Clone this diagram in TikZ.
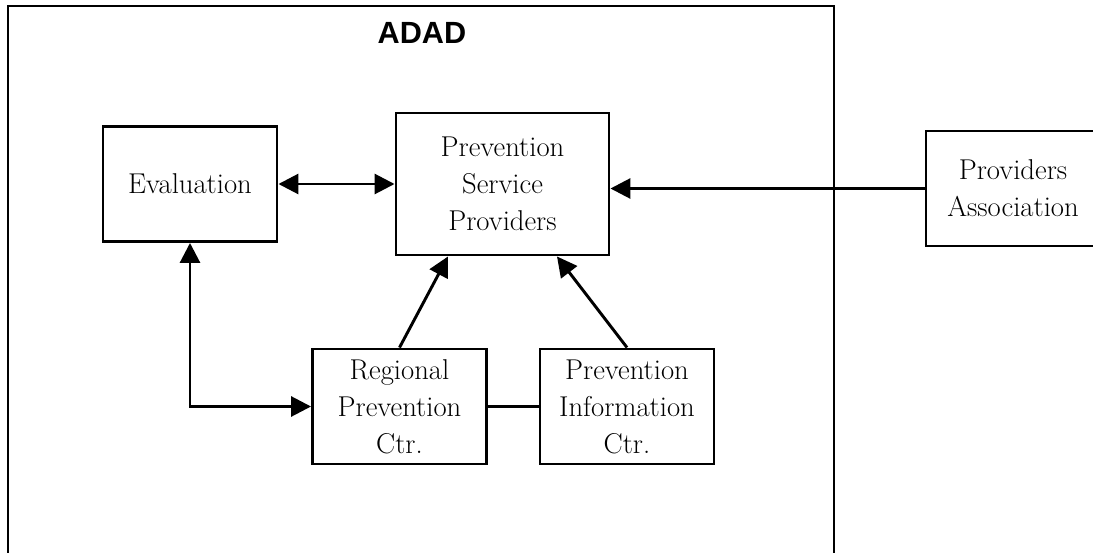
\documentclass[tikz,border=0pt]{standalone}
\usepackage{fontspec}
\newfontfamily\titlefont{Liberation Sans}
\usetikzlibrary{positioning,arrows.meta,calc}

\begin{document}
\begin{tikzpicture}[x=0.75pt, y=-0.75pt, line width=2.2pt,
    box/.style={draw, align=center, inner sep=0pt, minimum width=174*0.75pt, minimum height=115*0.75pt,
      font=\fontsize{21.5}{27.75}\selectfont},
    tip/.style={-{Triangle[length=15pt,width=15pt]}},
    tips/.style={{Triangle[length=15pt,width=15pt]}-{Triangle[length=15pt,width=15pt]}}]
    \useasboundingbox (0,0) rectangle (1093,553);
    \draw (8,570) -- (8,6) -- (834,6) -- (834,570);
    \node (adad) at (422,33) {\titlefont\bfseries\fontsize{23}{26}\selectfont ADAD};

    \node[box] (eval) at (190,184) {Evaluation};
    \node[box, minimum width=213*0.75pt, minimum height=142*0.75pt] (psp) at (502.5,184) {Prevention\\Service\\Providers};
    \node[box] (pa) at (1013,188.5) {Providers\\Association};
    \node[box] (rpc) at (399.5,406.5) {Regional\\Prevention\\Ctr.};
    \node[box] (pic) at (627,406.5) {Prevention\\Information\\Ctr.};

    \draw[tips] (eval.east) -- (psp.west);
    \draw[tip] (pa.west) -- (pa.west -| psp.east);
    \draw[tips] (eval.south) |- (rpc.west);
    \draw[tip] (rpc.north) -- ($(psp.south)+(-54.5,0)$);
    \draw[tip] (pic.north) -- ($(psp.south)+(54.5,0)$);
    \draw (rpc.east) -- (pic.west);
\end{tikzpicture}
\end{document}
